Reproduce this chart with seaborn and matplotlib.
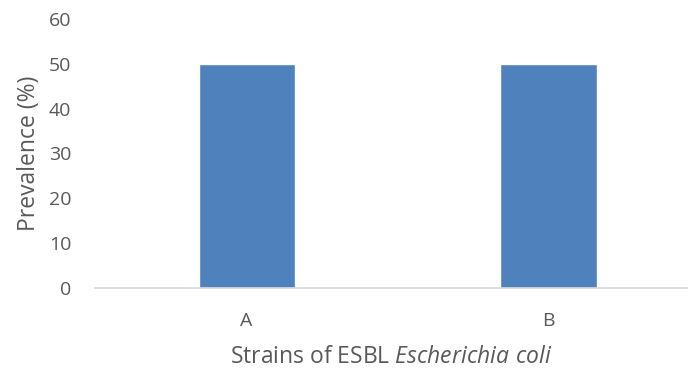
import matplotlib
matplotlib.use("Agg")
import matplotlib.pyplot as plt
import seaborn as sns
import pandas as pd

strains = ["A", "B"]
prevalence = [50, 50]
y_ticks = [0, 10, 20, 30, 40, 50, 60]

sns.set_theme(style="white")
plt.rcParams["font.family"] = ["Open Sans", "DejaVu Sans"]
plt.rcParams["mathtext.fontset"] = "custom"
plt.rcParams["mathtext.rm"] = "Open Sans"
plt.rcParams["mathtext.it"] = "Open Sans:italic"

df = pd.DataFrame({"Strain": strains, "Prevalence": prevalence})

fig = plt.figure(figsize=(6.88, 3.69), dpi=100)
ax = fig.add_axes([95 / 688, (369 - 288) / 369, 1 - 95 / 688, (288 - 19) / 369])

sns.barplot(data=df, x="Strain", y="Prevalence", color="#4F81BD",
            saturation=1, width=0.318, ax=ax)

ax.set_xlim(-0.502, 1.462)
ax.set_ylim(0, 60)
ax.set_yticks(y_ticks)

text_color = "#595959"
ax.tick_params(axis="y", length=0, pad=17, labelsize=14, labelcolor=text_color)
ax.tick_params(axis="x", length=0, pad=17, labelsize=14, labelcolor=text_color)

for side in ["left", "right", "top"]:
    ax.spines[side].set_visible(False)
ax.spines["bottom"].set_color("#D9D9D9")
ax.spines["bottom"].set_linewidth(1.2)

ax.set_ylabel("Prevalence (%)", fontsize=16.5, color=text_color, labelpad=6)
ax.set_xlabel("Strains of ESBL $\\mathit{Escherichia\\ coli}$", fontsize=16.5,
              color=text_color, labelpad=11)

fig.savefig("out.png", dpi=100)
